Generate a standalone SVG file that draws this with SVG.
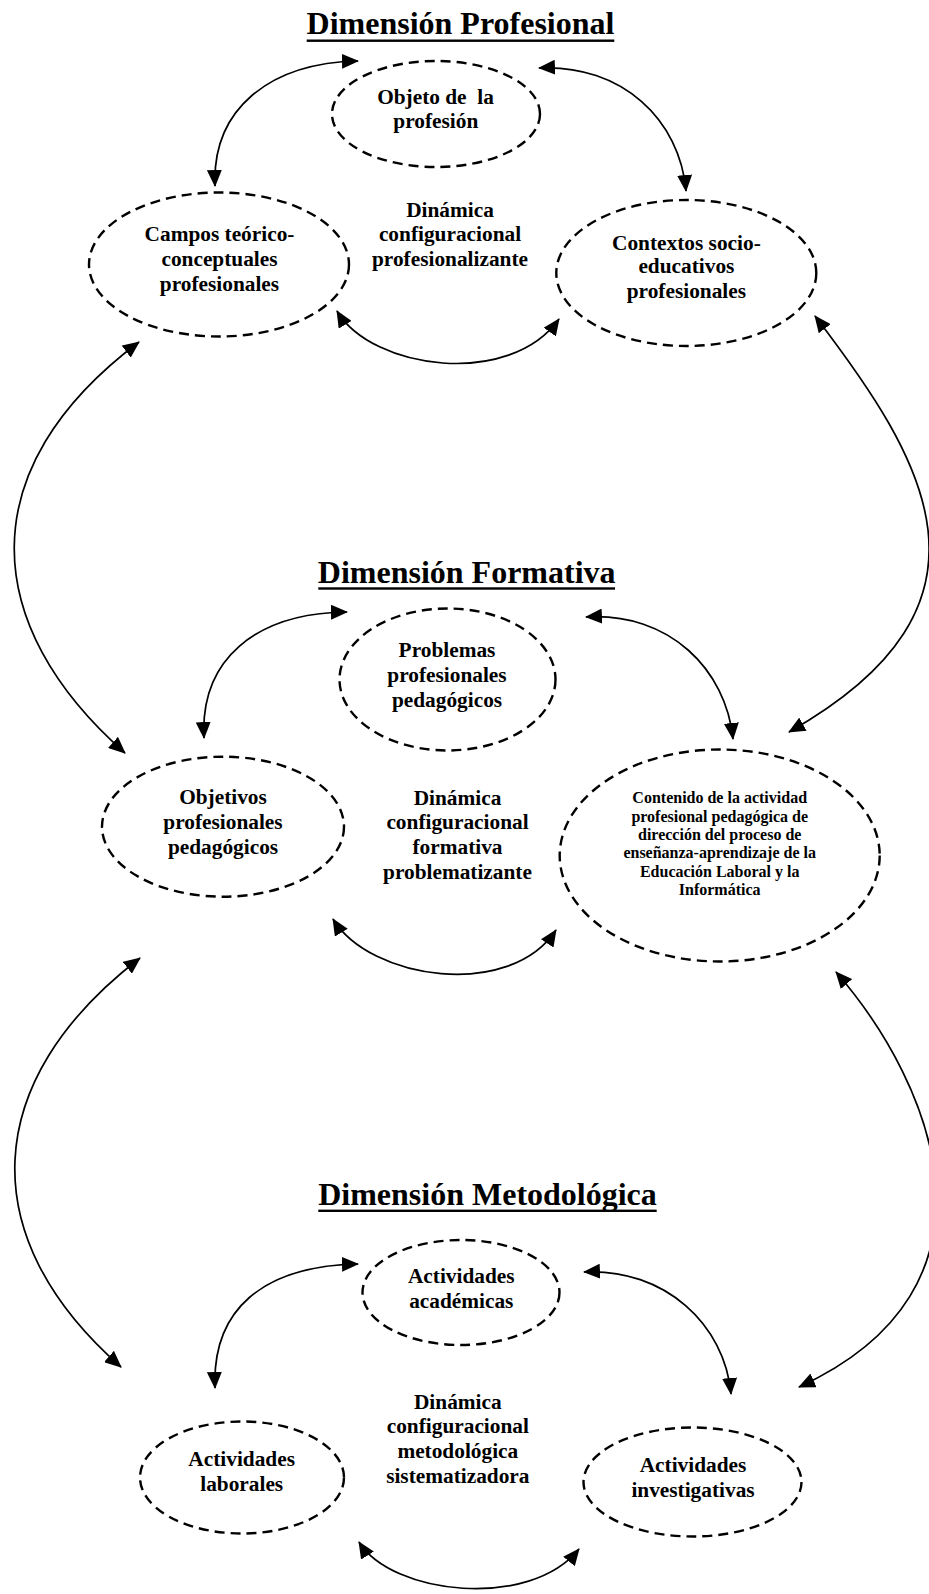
<svg xmlns="http://www.w3.org/2000/svg" width="929" height="1594" viewBox="0 0 929 1594">
<style>
  .bg { fill: #ffffff; }
  .node { fill: none; stroke: #000; stroke-width: 2.4; stroke-dasharray: 10 6; }
  .t { font-family: "Liberation Serif", "Times New Roman", serif; font-weight: bold; font-size: 21.33px; fill: #000; text-anchor: middle; }
  .s { font-size: 16px; }
  .title { font-family: "Liberation Serif", "Times New Roman", serif; font-weight: bold; font-size: 32px; fill: #000; text-anchor: middle; }
  .ul { fill: #000; }
  .c { fill: none; stroke: #000; stroke-width: 1.7; marker-start: url(#ah); marker-end: url(#ah); }
</style>
<defs>
  <marker id="ah" viewBox="0 0 17 15" refX="16" refY="7.5" markerWidth="17" markerHeight="15" markerUnits="userSpaceOnUse" orient="auto-start-reverse">
    <path d="M0,0 L17,7.5 L0,15 z" fill="#000"/>
  </marker>
</defs>
<rect class="bg" x="0" y="0" width="929" height="1594"/>

<g id="title-profesional">
  <text class="title" x="460.5" y="34.3">Dimensión Profesional</text>
  <rect class="ul" x="306.7" y="39.5" width="307.6" height="2.4"/>
</g>
<g id="title-formativa">
  <text class="title" x="466.7" y="582.7">Dimensión Formativa</text>
  <rect class="ul" x="318.3" y="587.3" width="296.7" height="2.4"/>
</g>
<g id="title-metodologica">
  <text class="title" x="487.5" y="1205">Dimensión Metodológica</text>
  <rect class="ul" x="318.3" y="1209.6" width="338.4" height="2.4"/>
</g>

<g id="connectors">
  <!-- section 1 -->
  <path class="c" d="M215,186 C212,110 268,63 358,61"/>
  <path class="c" d="M539,68 C622,64 680,120 686,191"/>
  <path class="c" d="M337,311 C372,370 510,388 559,319"/>
  <!-- big arcs -->
  <path class="c" d="M139,342 C-30,469 -20,625 125,753"/>
  <path class="c" d="M815,316 C925,460 1015,604 789,732"/>
  <!-- section 2 -->
  <path class="c" d="M204,738 C200,660 255,613 347,612"/>
  <path class="c" d="M586,617 C670,612 726,670 733,739"/>
  <path class="c" d="M333,919 C370,980 510,1000 556,930"/>
  <!-- big arcs lower -->
  <path class="c" d="M140,958 C-20,1081 -27,1237 121,1367"/>
  <path class="c" d="M836,972 C935,1086 1015,1288 799,1387"/>
  <!-- section 3 -->
  <path class="c" d="M215,1388 C212,1310 262,1266 358,1264"/>
  <path class="c" d="M584,1272 C665,1268 725,1325 731,1394"/>
  <path class="c" d="M359,1542 C392,1595 530,1610 579,1549"/>
</g>

<g id="node-objeto">
  <ellipse class="node" cx="436" cy="114" rx="104" ry="53"/>
  <text class="t" x="435.5" y="104" style="white-space:pre">Objeto de  la</text>
  <text class="t" x="435.8" y="128.3">profesión</text>
</g>
<g id="node-campos">
  <ellipse class="node" cx="219" cy="264.5" rx="130" ry="72"/>
  <text class="t" x="219.5" y="241">Campos teórico-</text>
  <text class="t" x="219.5" y="266">conceptuales</text>
  <text class="t" x="219.5" y="291">profesionales</text>
</g>
<g id="node-dinamica-profesional">
  <text class="t" x="450" y="216.7">Dinámica</text>
  <text class="t" x="450" y="240.7">configuracional</text>
  <text class="t" x="450" y="265.7">profesionalizante</text>
</g>
<g id="node-contextos">
  <ellipse class="node" cx="686.3" cy="273" rx="130" ry="73"/>
  <text class="t" x="686.4" y="250">Contextos socio-</text>
  <text class="t" x="686.4" y="273.3">educativos</text>
  <text class="t" x="686.4" y="298.3">profesionales</text>
</g>

<g id="node-problemas">
  <ellipse class="node" cx="447.5" cy="679.5" rx="108" ry="71"/>
  <text class="t" x="447" y="656.7">Problemas</text>
  <text class="t" x="447" y="681.7">profesionales</text>
  <text class="t" x="447" y="706.7">pedagógicos</text>
</g>
<g id="node-objetivos">
  <ellipse class="node" cx="223" cy="826.7" rx="121" ry="70"/>
  <text class="t" x="223" y="804.3">Objetivos</text>
  <text class="t" x="223" y="829">profesionales</text>
  <text class="t" x="223" y="854">pedagógicos</text>
</g>
<g id="node-dinamica-formativa">
  <text class="t" x="457.5" y="805">Dinámica</text>
  <text class="t" x="457.5" y="829.3">configuracional</text>
  <text class="t" x="457.5" y="854">formativa</text>
  <text class="t" x="457.5" y="879">problematizante</text>
</g>
<g id="node-contenido">
  <ellipse class="node" cx="719.7" cy="855.5" rx="160" ry="106"/>
  <text class="t s" x="719.7" y="803.3">Contenido de la actividad</text>
  <text class="t s" x="719.7" y="821.7">profesional pedagógica de</text>
  <text class="t s" x="719.7" y="840">dirección del proceso de</text>
  <text class="t s" x="719.7" y="858.3">enseñanza-aprendizaje de la</text>
  <text class="t s" x="719.7" y="876.7">Educación Laboral y la</text>
  <text class="t s" x="719.7" y="895">Informática</text>
</g>

<g id="node-academicas">
  <ellipse class="node" cx="461" cy="1292.5" rx="98.5" ry="52.5"/>
  <text class="t" x="461.3" y="1282.7">Actividades</text>
  <text class="t" x="461.3" y="1307.7">académicas</text>
</g>
<g id="node-dinamica-metodologica">
  <text class="t" x="457.8" y="1409.3">Dinámica</text>
  <text class="t" x="457.8" y="1433.3">configuracional</text>
  <text class="t" x="457.8" y="1458.3">metodológica</text>
  <text class="t" x="457.8" y="1483.3">sistematizadora</text>
</g>
<g id="node-laborales">
  <ellipse class="node" cx="242" cy="1477.5" rx="102" ry="56"/>
  <text class="t" x="241.7" y="1465.7">Actividades</text>
  <text class="t" x="241.7" y="1491">laborales</text>
</g>
<g id="node-investigativas">
  <ellipse class="node" cx="692.5" cy="1482" rx="109" ry="54.5"/>
  <text class="t" x="693" y="1471.7">Actividades</text>
  <text class="t" x="693" y="1496.7">investigativas</text>
</g>
</svg>
